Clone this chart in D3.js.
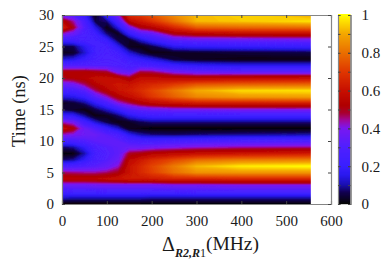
<!DOCTYPE html>
<html>
<head>
<meta charset="utf-8">
<script src="https://cdn.jsdelivr.net/npm/d3@7"></script>
<style>
  html, body { margin: 0; padding: 0; background: #fff; }
  svg { display: block; }
  text { font-family: "Liberation Serif", "Times New Roman", serif !important; fill: #1a1a1a; }
</style>
</head>
<body>
<div id="vis"></div>
<script>
// detuning columns (MHz), time rows are 0..30 ns in 1 ns steps
const detunings = [0, 25, 50, 75, 100, 125, 150, 175, 200, 250, 300, 400, 555];
const times = d3.range(0, 31);

const z0   = [0,.12,.25,.36,.56,.46,.27,.07,0,.07,.25,.42,.6,.42,.2,.05,.02,.13,.25,.36,.5,.52,.3,.12,.02,.05,.22,.42,.65,.55,.36];
const z25  = [0,.11,.26,.37,.56,.45,.28,.09,.01,.09,.27,.4,.52,.38,.18,.03,.04,.15,.26,.38,.52,.52,.3,.14,.03,.06,.24,.36,.5,.44,.3];
const z50  = [0,.11,.26,.37,.56,.44,.3,.18,.1,.18,.3,.37,.36,.24,.09,.01,.08,.2,.32,.46,.54,.52,.3,.2,.12,.16,.26,.28,.3,.27,.2];
const z75  = [0,.11,.26,.38,.56,.44,.32,.27,.25,.28,.33,.36,.3,.12,.01,.06,.17,.32,.46,.54,.58,.5,.3,.26,.24,.24,.24,.22,.14,.05,.01];
const z100 = [0,.11,.27,.38,.58,.46,.35,.31,.3,.31,.34,.32,.2,.05,.02,.12,.27,.42,.54,.58,.58,.48,.3,.28,.27,.26,.2,.08,.01,.08,.2];
const z125 = [0,.11,.27,.38,.6,.5,.42,.36,.33,.33,.33,.28,.12,.01,.07,.2,.4,.52,.6,.62,.56,.36,.29,.27,.24,.16,.05,.02,.14,.27,.4];
const z150 = [0,.11,.27,.38,.62,.6,.6,.56,.49,.36,.28,.16,.02,.03,.15,.3,.46,.58,.63,.6,.5,.33,.27,.22,.13,.02,.03,.18,.36,.56,.68];
const z175 = [0,.11,.27,.38,.62,.66,.66,.62,.51,.36,.26,.1,.01,.06,.2,.34,.52,.63,.67,.64,.58,.47,.27,.18,.06,.01,.12,.3,.5,.62,.7];
const z200 = [0,.1,.27,.38,.63,.71,.72,.67,.54,.38,.25,.08,0,.08,.22,.36,.56,.69,.72,.66,.58,.46,.26,.14,.01,.05,.2,.34,.54,.68,.75];
const z250 = [0,.1,.27,.39,.65,.8,.82,.73,.57,.4,.26,.07,0,.08,.22,.38,.6,.77,.81,.7,.56,.38,.2,.04,.02,.16,.32,.5,.66,.8,.85];
const z300 = [0,.1,.28,.39,.65,.86,.92,.79,.59,.42,.27,.08,0,.08,.22,.38,.62,.84,.9,.75,.55,.34,.17,.02,.03,.18,.34,.54,.76,.92,.92];
const z400 = [0,.1,.28,.4,.66,.87,.98,.82,.61,.44,.28,.09,0,.08,.22,.4,.62,.87,.96,.77,.57,.33,.15,.01,.04,.19,.35,.56,.78,.94,.95];
const z555 = [0,.1,.28,.4,.66,.87,1,.83,.63,.45,.28,.1,0,.08,.22,.4,.63,.88,.97,.78,.58,.33,.15,.01,.05,.2,.36,.57,.79,.97,.9];
const columns = [z0, z25, z50, z75, z100, z125, z150, z175, z200, z250, z300, z400, z555];

const xTicks = [0, 100, 200, 300, 400, 500, 600];
const yTicks = [0, 5, 10, 15, 20, 25, 30];
const barTicks = [0, 0.2, 0.4, 0.6, 0.8, 1];
const barMinor = d3.range(0, 11).map(d => d / 10);

// colours
const paletteStops = [0, .06, .1, .15, .2, .3, .4, .44, .48, .52, .6, .7, .8, .9, .97, 1];
const paletteColors = ["#050505", "#120050", "#1a10b0", "#2a18ee", "#3a20ff", "#5020ff", "#7a18f0", "#a008a0",
  "#a80030", "#b00000", "#c81000", "#e03800", "#ea7000", "#f4a800", "#ffe400", "#ffff00"];

const width = 388, height = 261;
const plot = { left: 62, right: 331, top: 15, bottom: 204 };
const bar = { left: 338, right: 350.5 };
const frame_color = "#858585";

const palette = d3.scaleLinear().domain(paletteStops).range(paletteColors).clamp(true);

const x = d3.scaleLinear().domain([0, 600]).range([plot.left, plot.right]);
const y = d3.scaleLinear().domain([0, 30]).range([plot.bottom, plot.top]);
const c = d3.scaleLinear().domain([0, 1]).range([plot.bottom, plot.top]);

// contour grid index -> data value (columns are not evenly spaced)
const colIndex = d3.scaleLinear().domain(detunings.map((d, i) => i + 0.5)).range(detunings);
const rowIndex = d3.scaleLinear().domain(times.map((d, i) => i + 0.5)).range(times);

const grid = [];
times.forEach((t, j) => columns.forEach(col => grid.push(col[j])));

const svg = d3.select("#vis").append("svg").attr("width", width).attr("height", height);

svg.append("clipPath").attr("id", "heat-clip").append("rect")
  .attr("x", x(0)).attr("y", y(30))
  .attr("width", x(555) - x(0)).attr("height", y(0) - y(30));

const blur = svg.append("filter").attr("id", "soft");
blur.append("feGaussianBlur").attr("stdDeviation", 0.7);

const levels = d3.range(0, 100).map(d => d / 100);
const contours = d3.contours()
  .size([detunings.length, times.length])
  .smooth(true)
  .thresholds(levels)(grid);

const path = d3.geoPath(d3.geoTransform({
  point: function (px, py) {
    this.stream.point(x(colIndex(px)), y(rowIndex(py)));
  },
}));

svg.append("g").attr("clip-path", "url(#heat-clip)")
  .append("g").attr("filter", "url(#soft)")
  .selectAll("path")
  .data(contours)
  .enter()
  .append("path")
  .attr("d", path)
  .attr("fill", d => palette(d.value + 0.005));

// frame + ticks
function style_axis(g) {
  g.selectAll(".domain").attr("stroke", frame_color).attr("stroke-width", 1.2);
  g.selectAll(".tick line").attr("stroke", "#444").attr("stroke-width", 1);
  g.selectAll(".tick text").attr("font-size", 15);
}

svg.append("g").attr("transform", `translate(0,${plot.bottom})`)
  .call(d3.axisBottom(x).tickValues(xTicks).tickSize(-3).tickPadding(11).tickFormat(d3.format("d")))
  .call(style_axis);
svg.append("g").attr("transform", `translate(0,${plot.top})`)
  .call(d3.axisTop(x).tickValues(xTicks).tickSize(-3).tickFormat(""))
  .call(style_axis);
svg.append("g").attr("transform", `translate(${plot.left},0)`)
  .call(d3.axisLeft(y).tickValues(yTicks).tickSize(-3).tickPadding(8).tickFormat(d3.format("d")))
  .call(style_axis);
svg.append("g").attr("transform", `translate(${plot.right},0)`)
  .call(d3.axisRight(y).tickValues(yTicks).tickSize(-3).tickFormat(""))
  .call(style_axis);

// colour bar
const barLevels = d3.range(0, 190).map(d => d / 189);
svg.append("g").selectAll("rect")
  .data(barLevels)
  .enter()
  .append("rect")
  .attr("x", bar.left)
  .attr("y", d => c(d) - 1)
  .attr("width", bar.right - bar.left)
  .attr("height", 1.2)
  .attr("fill", d => palette(d));

svg.append("g").attr("transform", `translate(${bar.left},0)`)
  .call(d3.axisLeft(c).tickValues(barMinor).tickSize(-2.5).tickFormat(""))
  .call(style_axis);
svg.append("g").attr("transform", `translate(${bar.right},0)`)
  .call(d3.axisRight(c).tickValues(barTicks).tickSize(-2.5).tickPadding(11).tickFormat(d3.format("~g")))
  .call(style_axis);
svg.append("g").attr("transform", `translate(${bar.right},0)`)
  .call(d3.axisRight(c).tickValues(barMinor).tickSize(-2.5).tickFormat(""))
  .call(style_axis);

// axis titles
svg.append("text")
  .attr("transform", "translate(25,111) rotate(-90)")
  .attr("text-anchor", "middle")
  .attr("font-size", 18.5)
  .text("Time (ns)");

const xlabel = svg.append("text").attr("x", 162).attr("y", 251);
xlabel.append("tspan").attr("font-size", 20).text("Δ");
xlabel.append("tspan").attr("font-size", 12).attr("font-style", "italic").attr("font-weight", "bold").attr("dy", 6).text("R2,R");
xlabel.append("tspan").attr("font-size", 12).text("1");
xlabel.append("tspan").attr("font-size", 19.5).attr("dy", -7).text("(MHz)");
</script>
</body>
</html>
